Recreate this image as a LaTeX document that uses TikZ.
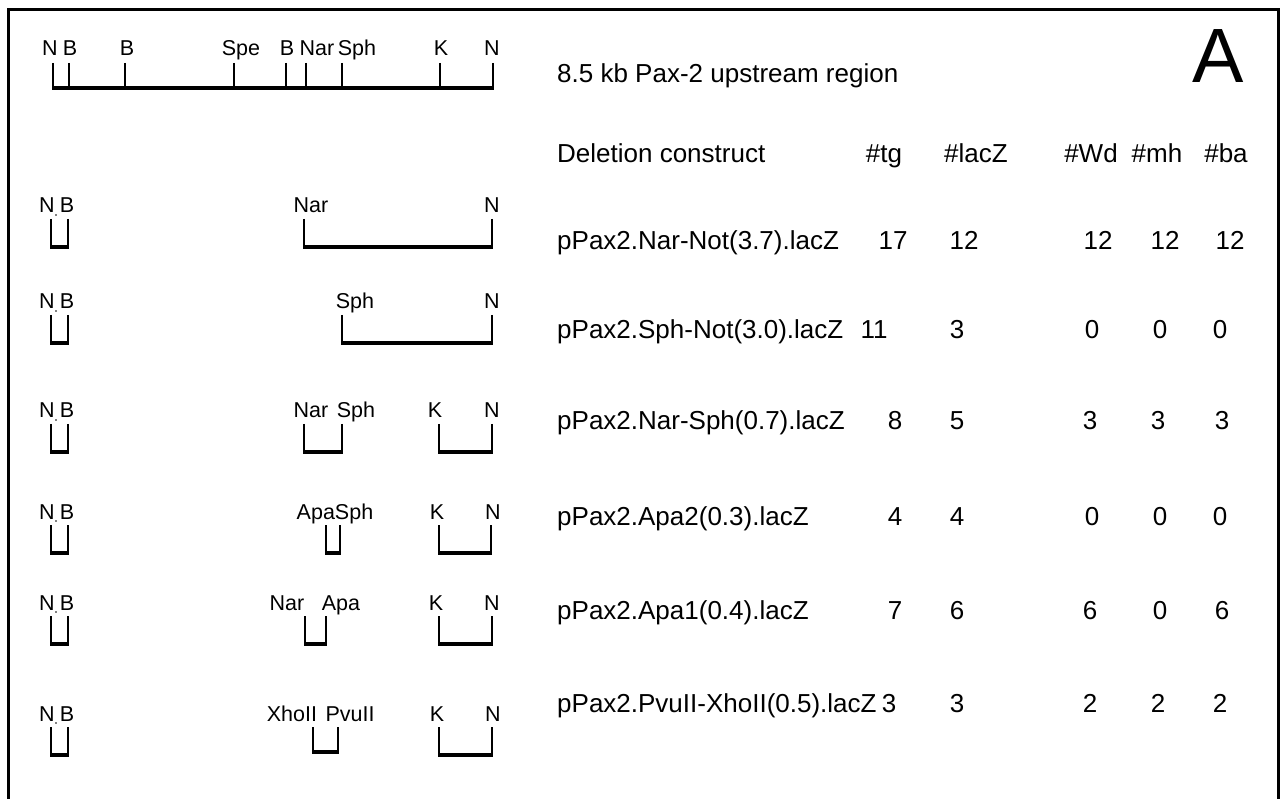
\documentclass[tikz,border=0pt]{standalone}
\usepackage{fontspec}
\setmainfont{Liberation Sans}
% tick pair joined by a heavy bottom bar: #1 left x, #2 right x, #3 top y, #4 bottom y
\newcommand\fragment[4]{%
  \draw[tickline] (#1,#3) -- (#1,#4);
  \draw[tickline] (#2,#3) -- (#2,#4);
  \draw[barline] (#1-0.9,#4) -- (#2+0.9,#4);}
% the small N/B piece at the left of each construct: #1 tag, #2 top y, #3 bottom y
\newcommand\nbpiece[3]{%
  \node[site] (n#1) at (47,#2-6) {N};
  \node[site] (b#1) at (67,#2-6) {B};
  \fill (56,#2-4) circle (0.9);
  \fragment{51}{68}{#2}{#3}}
\begin{document}
\begin{tikzpicture}[x=1pt,y=-1pt,
  site/.style={inner sep=0pt,anchor=base,font=\fontsize{21.5}{23}\selectfont},
  txt/.style={inner sep=0pt,anchor=base west,font=\fontsize{26}{28}\selectfont},
  num/.style={inner sep=0pt,anchor=base,font=\fontsize{26}{28}\selectfont},
  tickline/.style={line width=1.8pt},
  barline/.style={line width=3.2pt},
  frameline/.style={line width=3pt}]
\useasboundingbox (0,0) rectangle (1283,799);
\fill[white] (0,0) rectangle (1283,799);
\draw[frameline] (8,801) -- (8,10) -- (1278,10) -- (1278,801);

% panel letter
\node[inner sep=0pt,anchor=base,font=\fontsize{77}{80}\selectfont] (panel) at (1218,83) {A};

% full restriction map
\draw[barline] (52,88) -- (494,88);
\foreach \x in {53,69,125,234,286,306,342,440,493}
  \draw[tickline] (\x,63) -- (\x,88);
\node[site] (m1) at (50,56) {N};
\node[site] (m2) at (70,56) {B};
\node[site] (m3) at (127,56) {B};
\node[site] (m4) at (241,56) {Spe};
\node[site] (m5) at (287,56) {B};
\node[site] (m6) at (317,56) {Nar};
\node[site] (m7) at (357,56) {Sph};
\node[site] (m8) at (441,56) {K};
\node[site] (m9) at (492,56) {N};
\node[txt] (title) at (557,83) {8.5 kb Pax-2 upstream region};

% table header
\node[txt] (hdr) at (557,163) {Deletion construct};
\node[num] (htg) at (884,163) {\#tg};
\node[num] (hlz) at (976,163) {\#lacZ};
\node[num] (hwd) at (1091,163) {\#Wd};
\node[num] (hmh) at (1157,163) {\#mh};
\node[num] (hba) at (1226,163) {\#ba};

% construct 1
\nbpiece{1}{219}{247}
\fragment{304}{492}{219}{247}
\node[site] (s1a) at (311,213) {Nar};
\node[site] (s1b) at (492,213) {N};
\node[txt] (c1) at (557,250) {pPax2.Nar-Not(3.7).lacZ};
\node[num] (t1a) at (893,250) {17};
\node[num] (t1b) at (964,250) {12};
\node[num] (t1c) at (1098,250) {12};
\node[num] (t1d) at (1165,250) {12};
\node[num] (t1e) at (1230,250) {12};

% construct 2
\nbpiece{2}{315}{343}
\fragment{342}{492}{315}{343}
\node[site] (s2a) at (355,309) {Sph};
\node[site] (s2b) at (492,309) {N};
\node[txt] (c2) at (557,339) {pPax2.Sph-Not(3.0).lacZ};
\node[num] (t2a) at (874,339) {11};
\node[num] (t2b) at (957,339) {3};
\node[num] (t2c) at (1092,339) {0};
\node[num] (t2d) at (1160,339) {0};
\node[num] (t2e) at (1220,339) {0};

% construct 3
\nbpiece{3}{424}{452}
\fragment{304}{342}{424}{452}
\fragment{439}{492}{424}{452}
\node[site] (s3a) at (311,418) {Nar};
\node[site] (s3b) at (356,418) {Sph};
\node[site] (s3c) at (435,418) {K};
\node[site] (s3d) at (492,418) {N};
\node[txt] (c3) at (557,430) {pPax2.Nar-Sph(0.7).lacZ};
\node[num] (t3a) at (895,430) {8};
\node[num] (t3b) at (957,430) {5};
\node[num] (t3c) at (1090,430) {3};
\node[num] (t3d) at (1158,430) {3};
\node[num] (t3e) at (1222,430) {3};

% construct 4
\nbpiece{4}{525}{553}
\fragment{326}{340}{525}{553}
\fragment{439}{491}{525}{553}
\node[site] (s4a) at (335,519) {ApaSph};
\node[site] (s4c) at (437,519) {K};
\node[site] (s4d) at (493,519) {N};
\node[txt] (c4) at (557,525) {pPax2.Apa2(0.3).lacZ};
\node[num] (t4a) at (895,525) {4};
\node[num] (t4b) at (957,525) {4};
\node[num] (t4c) at (1092,525) {0};
\node[num] (t4d) at (1160,525) {0};
\node[num] (t4e) at (1220,525) {0};

% construct 5
\nbpiece{5}{616}{644}
\fragment{305}{326}{616}{644}
\fragment{439}{492}{616}{644}
\node[site] (s5a) at (287,610) {Nar};
\node[site] (s5b) at (341,610) {Apa};
\node[site] (s5c) at (436,610) {K};
\node[site] (s5d) at (492,610) {N};
\node[txt] (c5) at (557,619) {pPax2.Apa1(0.4).lacZ};
\node[num] (t5a) at (895,619) {7};
\node[num] (t5b) at (957,619) {6};
\node[num] (t5c) at (1090,619) {6};
\node[num] (t5d) at (1160,619) {0};
\node[num] (t5e) at (1222,619) {6};

% construct 6
\nbpiece{6}{727}{755}
\fragment{313}{338}{727}{752}
\fragment{439}{492}{727}{755}
\node[site] (s6a) at (292,721) {XhoII};
\node[site] (s6b) at (350,721) {PvuII};
\node[site] (s6c) at (437,721) {K};
\node[site] (s6d) at (493,721) {N};
\node[txt] (c6) at (557,712) {pPax2.PvuII-XhoII(0.5).lacZ};
\node[num] (t6a) at (889,712) {3};
\node[num] (t6b) at (957,712) {3};
\node[num] (t6c) at (1090,712) {2};
\node[num] (t6d) at (1158,712) {2};
\node[num] (t6e) at (1220,712) {2};
\end{tikzpicture}
\end{document}
